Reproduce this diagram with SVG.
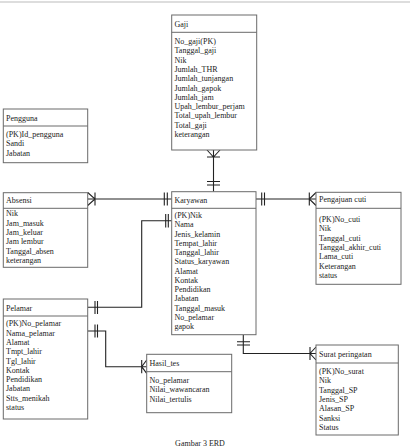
<svg xmlns="http://www.w3.org/2000/svg" width="410" height="448" viewBox="0 0 410 448">
<style>
.box{fill:#fff;stroke:#6a6a6a;stroke-width:1}
.sep{stroke:#6a6a6a;stroke-width:1}
text{font-family:"Liberation Serif","Times New Roman",serif;font-size:8px;fill:#222}
.ln{fill:none;stroke:#222;stroke-width:1.1}
</style>
<rect width="410" height="448" fill="#fff"/>
<line x1="0" y1="2" x2="410" y2="2" stroke="#bbb" stroke-width="1"/>
<g id="connectors" class="ln">
  <!-- Gaji - Karyawan -->
  <path d="M213.5,150 V191.7"/>
  <path d="M207,150 L213.5,157 L220,150 M207,157 H220"/>
  <path d="M207,181.5 H220 M207,185 H220"/>
  <!-- Absensi - Karyawan -->
  <path d="M87.7,199 H171.7"/>
  <path d="M87.7,192.5 L95,199 L87.7,205.5 M95,192.5 V205.5"/>
  <path d="M164.3,192.5 V205.5 M167.3,192.5 V205.5"/>
  <!-- Karyawan - Pengajuan cuti -->
  <path d="M256,199 H316"/>
  <path d="M261.7,192.5 V205.5 M264.5,192.5 V205.5"/>
  <path d="M316,192.5 L309.3,199 L316,205.5 M309.3,192.5 V205.5"/>
  <!-- Pelamar - Karyawan -->
  <path d="M87.7,307.3 H141.7 V220.7 H171.7"/>
  <path d="M95,301 V314 M97.5,301 V314"/>
  <path d="M165.7,214 V227.5 M168.3,214 V227.5"/>
  <!-- Pelamar - Hasil_tes -->
  <path d="M87.7,331 H105.7 V366.7 H146.7"/>
  <path d="M95,324.5 V337.5 M97.5,324.5 V337.5"/>
  <path d="M146.7,360 L141.7,366.7 L146.7,373.3 M141.7,360 V373.3"/>
  <!-- Karyawan - Surat peringatan -->
  <path d="M243.3,334.7 V353.5 H316"/>
  <path d="M237,341.7 H250 M237,345 H250"/>
  <path d="M316,347 L310,353.5 L316,360 M310,347 V360"/>
</g>
<g id="gaji">
  <rect class="box" x="171.7" y="15" width="85" height="135"/>
  <line class="sep" x1="171.7" y1="32.3" x2="256.7" y2="32.3"/>
  <text x="174.5" y="27">Gaji</text>
  <text x="174.5" y="44">No_gaji(PK)</text>
  <text x="174.5" y="53.3">Tanggal_gaji</text>
  <text x="174.5" y="62.6">Nik</text>
  <text x="174.5" y="71.9">Jumlah_THR</text>
  <text x="174.5" y="81.2">Jumlah_tunjangan</text>
  <text x="174.5" y="90.5">Jumlah_gapok</text>
  <text x="174.5" y="99.8">Jumlah_jam</text>
  <text x="174.5" y="109.1">Upah_lembur_perjam</text>
  <text x="174.5" y="118.4">Total_upah_lembur</text>
  <text x="174.5" y="127.7">Total_gaji</text>
  <text x="174.5" y="137">keterangan</text>
</g>
<g id="pengguna">
  <rect class="box" x="3.3" y="109" width="84.4" height="53.7"/>
  <line class="sep" x1="3.3" y1="126" x2="87.7" y2="126"/>
  <text x="6" y="121.3">Pengguna</text>
  <text x="6" y="137">(PK)Id_pengguna</text>
  <text x="6" y="146.3">Sandi</text>
  <text x="6" y="155.6">Jabatan</text>
</g>
<g id="absensi">
  <rect class="box" x="3.3" y="192.7" width="84.4" height="74.6"/>
  <line class="sep" x1="3.3" y1="208.3" x2="87.7" y2="208.3"/>
  <text x="6" y="203">Absensi</text>
  <text x="6" y="216.3">Nik</text>
  <text x="6" y="225.6">Jam_masuk</text>
  <text x="6" y="234.9">Jam_keluar</text>
  <text x="6" y="244.2">Jam lembur</text>
  <text x="6" y="253.5">Tanggal_absen</text>
  <text x="6" y="262.8">keterangan</text>
</g>
<g id="karyawan">
  <rect class="box" x="171.7" y="191.7" width="84.3" height="143"/>
  <line class="sep" x1="171.7" y1="208.3" x2="256" y2="208.3"/>
  <text x="174.5" y="203">Karyawan</text>
  <text x="174.5" y="218">(PK)Nik</text>
  <text x="174.5" y="227.25">Nama</text>
  <text x="174.5" y="236.5">Jenis_kelamin</text>
  <text x="174.5" y="245.75">Tempat_lahir</text>
  <text x="174.5" y="255">Tanggal_lahir</text>
  <text x="174.5" y="264.25">Status_karyawan</text>
  <text x="174.5" y="273.5">Alamat</text>
  <text x="174.5" y="282.75">Kontak</text>
  <text x="174.5" y="292">Pendidikan</text>
  <text x="174.5" y="301.25">Jabatan</text>
  <text x="174.5" y="310.5">Tanggal_masuk</text>
  <text x="174.5" y="319.75">No_pelamar</text>
  <text x="174.5" y="329">gapok</text>
</g>
<g id="pengajuan-cuti">
  <rect class="box" x="316" y="192.3" width="85" height="92"/>
  <line class="sep" x1="316" y1="208.3" x2="401" y2="208.3"/>
  <text x="319" y="202.3">Pengajuan cuti</text>
  <text x="319" y="222">(PK)No_cuti</text>
  <text x="319" y="231.3">Nik</text>
  <text x="319" y="240.6">Tanggal_cuti</text>
  <text x="319" y="249.9">Tanggal_akhir_cuti</text>
  <text x="319" y="259.2">Lama_cuti</text>
  <text x="319" y="268.5">Keterangan</text>
  <text x="319" y="277.8">status</text>
</g>
<g id="pelamar">
  <rect class="box" x="3.3" y="299" width="84.4" height="120"/>
  <line class="sep" x1="3.3" y1="316" x2="87.7" y2="316"/>
  <text x="6" y="310.7">Pelamar</text>
  <text x="6" y="326.3">(PK)No_pelamar</text>
  <text x="6" y="335.6">Nama_pelamar</text>
  <text x="6" y="344.9">Alamat</text>
  <text x="6" y="354.2">Tmpt_lahir</text>
  <text x="6" y="363.5">Tgl_lahir</text>
  <text x="6" y="372.8">Kontak</text>
  <text x="6" y="382.1">Pendidikan</text>
  <text x="6" y="391.4">Jabatan</text>
  <text x="6" y="400.7">Stts_menikah</text>
  <text x="6" y="410">status</text>
</g>
<g id="hasil-tes">
  <rect class="box" x="146.7" y="354.3" width="85" height="58.4"/>
  <line class="sep" x1="146.7" y1="371.7" x2="231.7" y2="371.7"/>
  <text x="149.5" y="365.7">Hasil_tes</text>
  <text x="149.5" y="383">No_pelamar</text>
  <text x="149.5" y="392.3">Nilai_wawancaran</text>
  <text x="149.5" y="401.6">Nilai_tertulis</text>
</g>
<g id="surat-peringatan">
  <rect class="box" x="316" y="345" width="82.3" height="90"/>
  <line class="sep" x1="316" y1="363" x2="398.3" y2="363"/>
  <text x="319" y="356.5">Surat peringatan</text>
  <text x="319" y="374">(PK)No_surat</text>
  <text x="319" y="383.3">Nik</text>
  <text x="319" y="392.6">Tanggal_SP</text>
  <text x="319" y="401.9">Jenis_SP</text>
  <text x="319" y="411.2">Alasan_SP</text>
  <text x="319" y="420.5">Sanksi</text>
  <text x="319" y="429.8">Status</text>
</g>
<text x="200" y="446" text-anchor="middle">Gambar 3 ERD</text>
</svg>
